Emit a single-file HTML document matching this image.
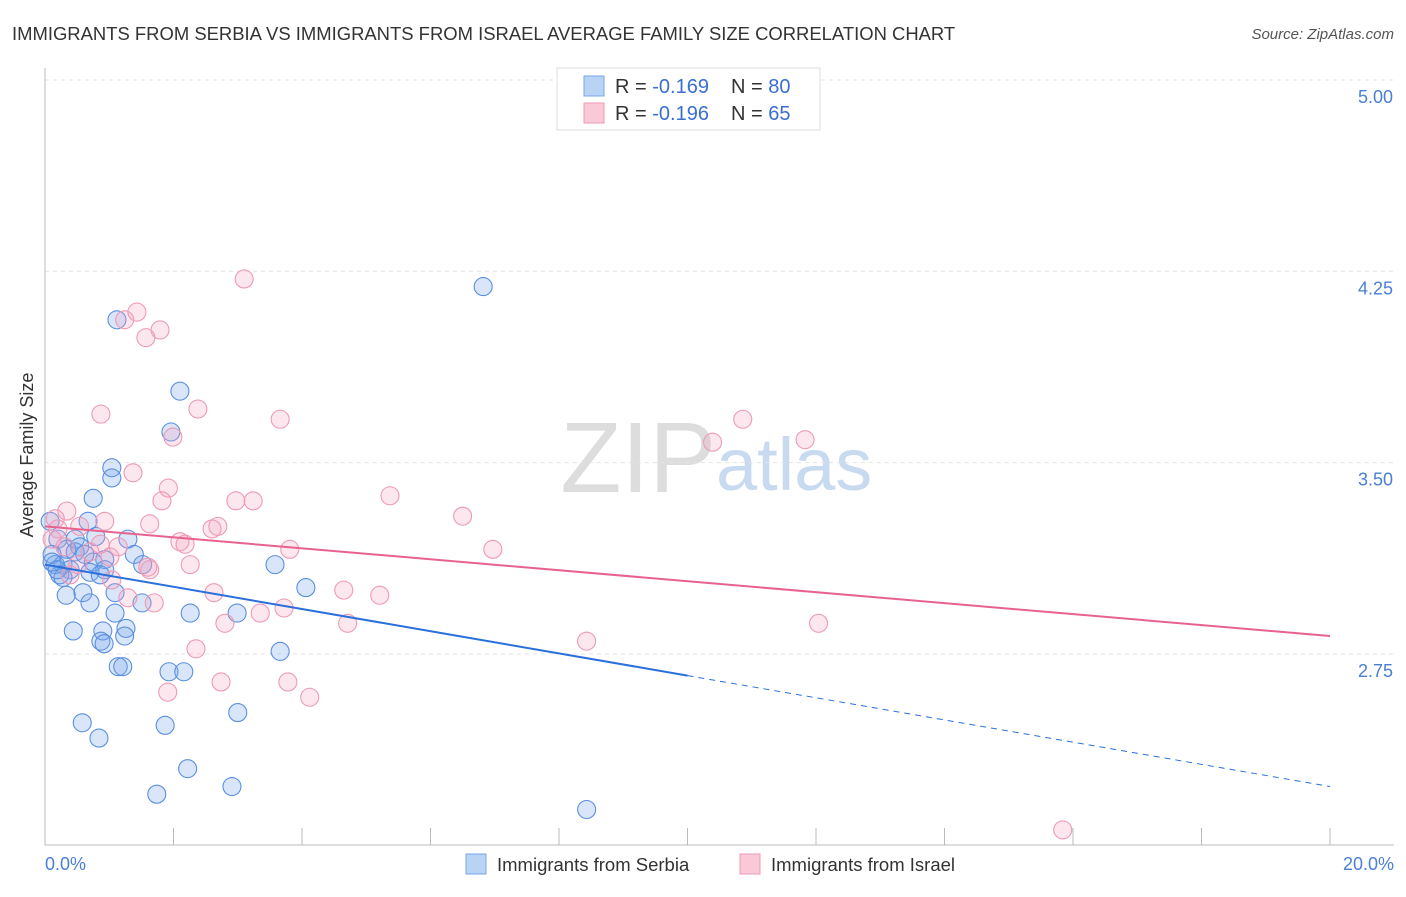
<!DOCTYPE html>
<html><head><meta charset="utf-8"><style>
body{margin:0;background:#fff;font-family:"Liberation Sans",sans-serif;}
svg text{font-family:"Liberation Sans",sans-serif;}
</style></head><body>
<svg id="chart" width="1406" height="892" xmlns="http://www.w3.org/2000/svg">
<text x="12" y="40" font-size="18.45" fill="#333">IMMIGRANTS FROM SERBIA VS IMMIGRANTS FROM ISRAEL AVERAGE FAMILY SIZE CORRELATION CHART</text>
<text x="1394" y="39" font-size="15" fill="#555" text-anchor="end" font-style="italic">Source: ZipAtlas.com</text>
<text x="716" y="492" font-size="100" fill="#ddd" text-anchor="end" font-family="Liberation Serif">ZIP</text>
<text x="716" y="490" font-size="74" fill="#c8daf0">atlas</text>
<g id="grid"></g><g id="axes"></g><g id="pts"></g><g id="lines"></g>
<text x="33" y="455" font-size="18" fill="#333" text-anchor="middle" transform="rotate(-90 33 455)">Average Family Size</text>
<text x="45" y="870" font-size="18" fill="#4a7fd6">0.0%</text>
<text x="1394" y="870" font-size="18" fill="#4a7fd6" text-anchor="end">20.0%</text>
<g>
<rect x="557" y="68" width="263" height="62" fill="#fff" stroke="#ddd"/>
<rect x="584" y="76" width="20" height="20" fill="#b9d3f5" stroke="#7aa6e6"/>
<rect x="584" y="103" width="20" height="20" fill="#f9c9d8" stroke="#ef9ab6"/>
<text y="93" font-size="20" fill="#333"><tspan x="615">R = </tspan><tspan fill="#3a6fd0">-0.169</tspan><tspan x="731">N = </tspan><tspan fill="#3a6fd0">80</tspan></text>
<text y="120" font-size="20" fill="#333"><tspan x="615">R = </tspan><tspan fill="#3a6fd0">-0.196</tspan><tspan x="731">N = </tspan><tspan fill="#3a6fd0">65</tspan></text>
</g>
<g>
<rect x="466" y="854" width="20" height="20" fill="#b9d3f5" stroke="#7aa6e6"/>
<text x="497" y="871" font-size="18.5" fill="#333">Immigrants from Serbia</text>
<rect x="740" y="854" width="20" height="20" fill="#f9c9d8" stroke="#ef9ab6"/>
<text x="771" y="871" font-size="18.5" fill="#333">Immigrants from Israel</text>
</g>
</svg>
<script>
const yTicks=[5.00,4.25,3.50,2.75];
const xTicks=[0,2,4,6,8,10,12,14,16,18,20];
const serbiaX=[6.82,1.12,2.10,1.96,1.04,1.04,0.75,0.08,0.67,1.29,0.79,0.47,0.20,0.54,0.34,0.11,1.39,0.93,0.75,3.58,1.52,0.16,0.28,0.39,0.23,0.93,0.70,0.28,0.86,4.06,1.09,0.59,0.33,0.70,1.51,1.09,2.26,2.99,0.44,0.90,1.26,1.24,0.87,0.92,3.66,1.14,1.21,1.93,2.16,3.00,0.58,1.87,0.84,2.22,1.74,2.91,8.43,0.11,0.19,0.47,0.62];
const serbiaY=[4.19,4.06,3.78,3.62,3.48,3.44,3.36,3.27,3.27,3.20,3.21,3.20,3.20,3.17,3.16,3.14,3.14,3.12,3.11,3.10,3.10,3.10,3.10,3.08,3.06,3.08,3.07,3.05,3.06,3.01,2.99,2.99,2.98,2.95,2.95,2.91,2.91,2.91,2.84,2.84,2.85,2.82,2.80,2.79,2.76,2.70,2.70,2.68,2.68,2.52,2.48,2.47,2.42,2.30,2.20,2.23,2.14,3.11,3.08,3.15,3.14];
const israelX=[3.10,1.43,1.24,1.79,1.57,0.87,2.38,3.66,1.99,10.86,10.39,11.83,1.37,1.92,1.82,2.97,3.24,5.37,6.50,0.34,0.16,0.93,1.63,2.60,2.69,2.10,2.18,6.97,3.81,1.14,0.31,0.70,1.01,1.60,2.26,1.63,0.51,1.04,4.65,5.21,2.63,1.29,1.70,3.72,3.35,2.80,4.71,12.04,8.43,2.35,2.74,3.78,1.91,4.12,15.84,0.11,0.20,0.54,0.86,0.39];
const israelY=[4.22,4.09,4.06,4.02,3.99,3.69,3.71,3.67,3.60,3.67,3.58,3.59,3.46,3.40,3.35,3.35,3.35,3.37,3.29,3.31,3.28,3.27,3.26,3.24,3.25,3.19,3.18,3.16,3.16,3.17,3.17,3.15,3.13,3.09,3.10,3.08,3.10,3.04,3.00,2.98,2.99,2.97,2.95,2.93,2.91,2.87,2.87,2.87,2.80,2.77,2.64,2.64,2.60,2.58,2.06,3.20,3.24,3.25,3.18,3.06];
const serbiaTrend=[3.10,2.23];
const israelTrend=[3.25,2.82];
const NS="http://www.w3.org/2000/svg";
const X=v=>45+v/20*1285, Y=v=>80+(5-v)/0.75*191.3;
function mk(p,t,a){const e=document.createElementNS(NS,t);for(const k in a)e.setAttribute(k,a[k]);document.getElementById(p).appendChild(e);return e;}
yTicks.forEach(t=>{
 const l=mk('grid','line',{x1:45,x2:1394,y1:Y(t),y2:Y(t),stroke:'#e4e4e4','stroke-dasharray':'4 4'});
 
 
 const tx=mk('grid','text',{x:1393,y:Y(t)+23,'font-size':18,fill:'#4a7fd6','text-anchor':'end'});tx.textContent=t.toFixed(2);
 
 
});
const ax=mk('axes','line',{x1:45,x2:45,y1:68,y2:845,stroke:'#bbb'});


const bx=mk('axes','line',{x1:45,x2:1394,y1:845,y2:845,stroke:'#bbb'});


xTicks.forEach(t=>{const l=mk('axes','line',{x1:X(t),x2:X(t),y1:828,y2:845,stroke:'#bbb'});
 
 });
serbiaX.forEach((x,i)=>{const c=mk('pts','circle',{cx:X(x),cy:Y(serbiaY[i]),r:9,fill:'rgba(120,165,235,0.28)',stroke:'#5a8fe0','stroke-width':1.1});
 
 });
israelX.forEach((x,i)=>{const c=mk('pts','circle',{cx:X(x),cy:Y(israelY[i]),r:9,fill:'rgba(245,160,190,0.25)',stroke:'#ee9ab5','stroke-width':1.1});
 
 });
const sAt=v=>serbiaTrend[0]+(serbiaTrend[1]-serbiaTrend[0])*v/20;
const l1=mk('lines','line',{x1:X(0),y1:Y(sAt(0)),x2:X(10),y2:Y(sAt(10)),stroke:'#2a6fdb','stroke-width':2});


const l2=mk('lines','line',{x1:X(10),y1:Y(sAt(10)),x2:X(20),y2:Y(sAt(20)),stroke:'#2a6fdb','stroke-width':1,'stroke-dasharray':'6 5'});


const l3=mk('lines','line',{x1:X(0),y1:Y(israelTrend[0]),x2:X(20),y2:Y(israelTrend[1]),stroke:'#e8628f','stroke-width':2});


</script>
</body></html>
